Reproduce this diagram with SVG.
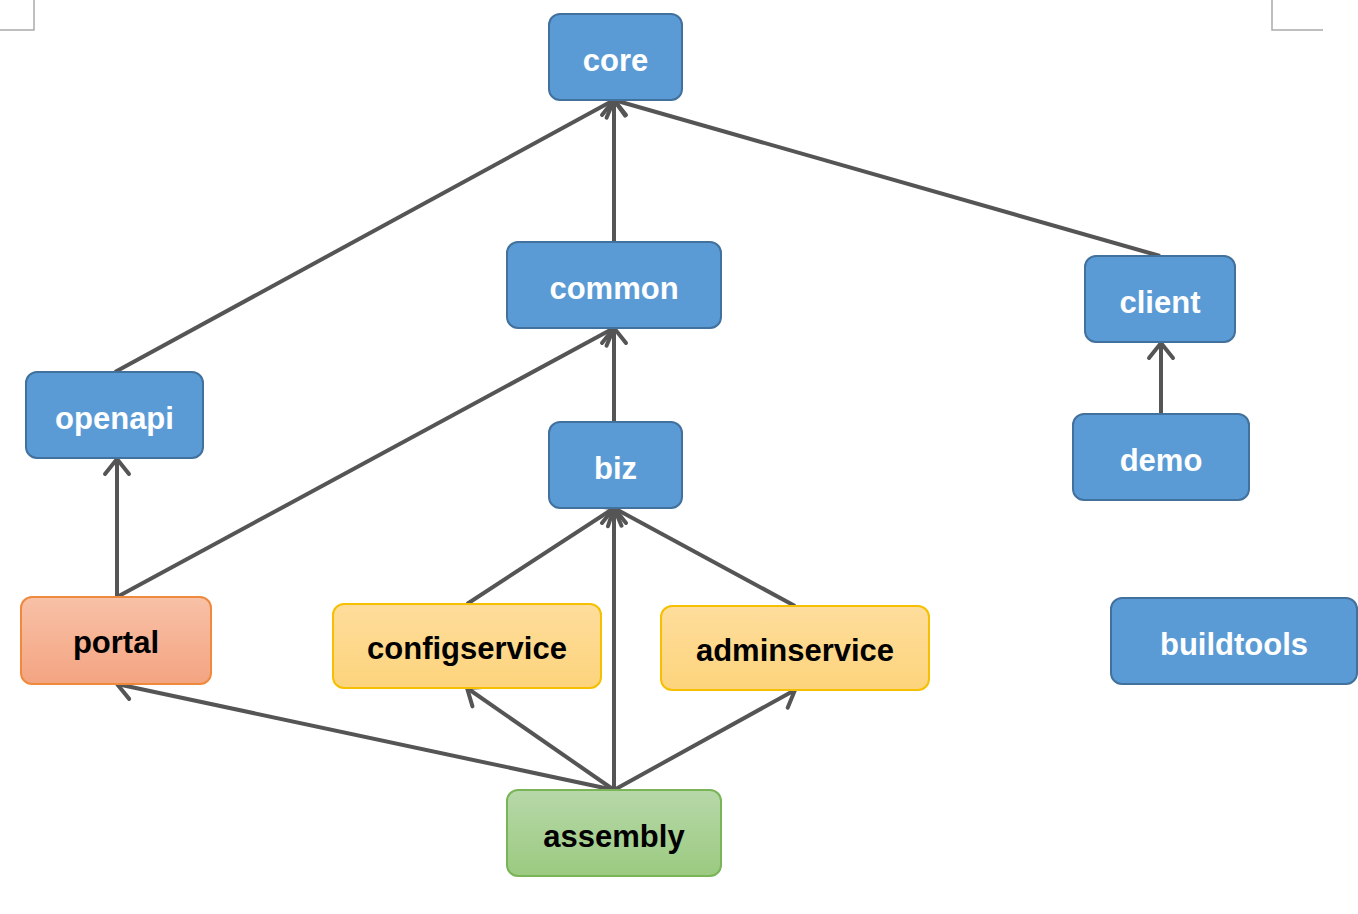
<svg xmlns="http://www.w3.org/2000/svg" width="1358" height="914" viewBox="0 0 1358 914">
<style>
.n rect{stroke-width:2}
.blue rect{fill:#5b9bd5;stroke:#41719c}
.blue text{fill:#fff}
.portal rect{fill:url(#gPortal);stroke:#ef8a3c}
.yellow rect{fill:url(#gYellow);stroke:#f6c000}
.green rect{fill:url(#gGreen);stroke:#79b557}
text{font-family:"Liberation Sans",Arial,sans-serif;font-weight:bold;font-size:31px;text-anchor:middle;fill:#000}
.e{stroke:#555;stroke-width:4;fill:none;marker-end:url(#arr)}
.corner{stroke:#aaa;stroke-width:1.5;fill:none}
</style>
<defs>
<linearGradient id="gPortal" x1="0" y1="0" x2="0" y2="1"><stop offset="0" stop-color="#f8c1a7"/><stop offset="1" stop-color="#f4a481"/></linearGradient>
<linearGradient id="gYellow" x1="0" y1="0" x2="0" y2="1"><stop offset="0" stop-color="#fedd9c"/><stop offset="1" stop-color="#fdd47c"/></linearGradient>
<linearGradient id="gGreen" x1="0" y1="0" x2="0" y2="1"><stop offset="0" stop-color="#b7d8a9"/><stop offset="1" stop-color="#9bca80"/></linearGradient>
<marker id="arr" markerUnits="userSpaceOnUse" markerWidth="32" markerHeight="32" refX="18" refY="14" orient="auto" viewBox="0 0 32 28">
<path d="M3,2 L18,14 L3,26" fill="none" stroke="#555" stroke-width="4" stroke-linecap="round" stroke-linejoin="round"/>
</marker>
</defs>
<path class="corner" d="M34,0 V30 H0"/>
<path class="corner" d="M1272,0 V30 H1323"/>
<g id="connectors">
<line class="e" x1="115" y1="372" x2="614" y2="100"/>
<line class="e" x1="614" y1="242" x2="614" y2="100"/>
<line class="e" x1="1160" y1="256" x2="614" y2="100"/>
<line class="e" x1="117" y1="597" x2="614" y2="328"/>
<line class="e" x1="117" y1="597" x2="117" y2="459"/>
<line class="e" x1="614" y1="422" x2="614" y2="328"/>
<line class="e" x1="1161" y1="414" x2="1161" y2="343"/>
<line class="e" x1="467" y1="604" x2="614" y2="508"/>
<line class="e" x1="795" y1="606" x2="614" y2="508"/>
<line class="e" x1="614" y1="790" x2="614" y2="508"/>
<line class="e" x1="614" y1="790" x2="117" y2="684"/>
<line class="e" x1="614" y1="790" x2="467" y2="688"/>
<line class="e" x1="614" y1="790" x2="795" y2="690"/>
</g>
<g id="core" class="n blue"><rect x="549" y="14" width="133" height="86" rx="11"/><text x="615.5" y="71">core</text></g>
<g id="common" class="n blue"><rect x="507" y="242" width="214" height="86" rx="11"/><text x="614" y="299">common</text></g>
<g id="client" class="n blue"><rect x="1085" y="256" width="150" height="86" rx="11"/><text x="1160" y="313">client</text></g>
<g id="openapi" class="n blue"><rect x="26" y="372" width="177" height="86" rx="11"/><text x="114.5" y="429">openapi</text></g>
<g id="biz" class="n blue"><rect x="549" y="422" width="133" height="86" rx="11"/><text x="615.5" y="479">biz</text></g>
<g id="demo" class="n blue"><rect x="1073" y="414" width="176" height="86" rx="11"/><text x="1161" y="471">demo</text></g>
<g id="buildtools" class="n blue"><rect x="1111" y="598" width="246" height="86" rx="11"/><text x="1234" y="655">buildtools</text></g>
<g id="portal" class="n portal"><rect x="21" y="597" width="190" height="87" rx="11"/><text x="116" y="653">portal</text></g>
<g id="configservice" class="n yellow"><rect x="333" y="604" width="268" height="84" rx="11"/><text x="467" y="659">configservice</text></g>
<g id="adminservice" class="n yellow"><rect x="661" y="606" width="268" height="84" rx="11"/><text x="795" y="661">adminservice</text></g>
<g id="assembly" class="n green"><rect x="507" y="790" width="214" height="86" rx="11"/><text x="614" y="847">assembly</text></g>
</svg>
